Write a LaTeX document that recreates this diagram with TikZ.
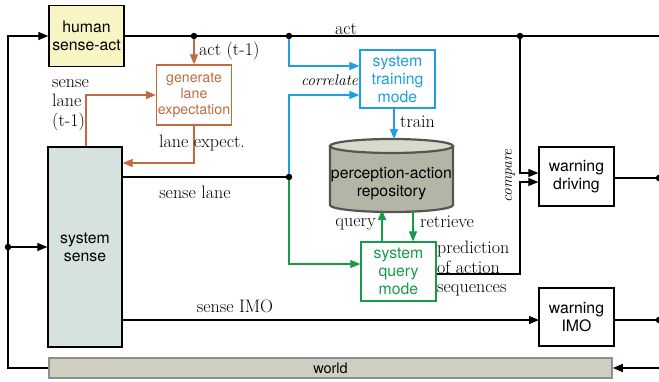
\documentclass[tikz,border=0pt]{standalone}
\usepackage{fontspec}
\setsansfont{TeX Gyre Heros}
\usetikzlibrary{arrows.meta}

\definecolor{orng}{HTML}{C06A3E}
\definecolor{blu}{HTML}{1E9FE3}
\definecolor{grn}{HTML}{179A4A}
\definecolor{humanfill}{HTML}{F9F4C4}
\definecolor{sensefill}{HTML}{D6E2DE}
\definecolor{worldfill}{HTML}{CFCFC1}
\definecolor{worldedge}{HTML}{8E8E8E}
\definecolor{cylbody}{HTML}{B5B5A7}
\definecolor{cyltop}{HTML}{D9D9CC}
\definecolor{cyledge}{HTML}{555555}

\tikzset{
  box/.style={draw, line width=1.3pt, minimum width=75pt, minimum height=59pt,
    inner sep=0pt, align=center, font=\sffamily\fontsize{15.8}{18}\selectfont},
  lbl/.style={inner sep=0pt, font=\fontsize{18}{19.5}\selectfont},
  ilbl/.style={inner sep=0pt, font=\itshape\fontsize{15.5}{18}\selectfont},
  wire/.style={line width=1.2pt},
  arr/.style={wire, -{Triangle[length=10pt,width=8pt]}},
  dot/.style={circle, fill, inner sep=0pt, minimum size=6.5pt},
}

\begin{document}
\begin{tikzpicture}[x=1pt,y=-1pt]
\useasboundingbox (0,0) rectangle (659,381);

% ---------- boxes ----------
\node[box, fill=humanfill, minimum height=61pt] (human) at (86.5,36) {human\\sense-act};
\node[box, draw=orng, text=orng, minimum height=60pt,
      font=\sffamily\fontsize{14.2}{16}\selectfont] (gen) at (194,95) {generate\\lane\\expectation};
\node[box, fill=sensefill, minimum width=74pt, minimum height=200pt] (sense) at (85,247) {system\\sense};
\node[box, draw=blu, text=blu, minimum height=58pt] (train) at (397.5,79) {system\\training\\mode};
\node[box, draw=grn, text=grn] (query) at (398.5,271.5) {system\\query\\mode};
\node[box] (drv) at (576.5,176.5) {warning\\driving};
\node[box, minimum height=58pt] (imo) at (576.5,317) {warning\\IMO};
\node[box, draw=worldedge, fill=worldfill, line width=1.6pt, minimum width=563pt,
      minimum height=20pt, font=\sffamily\fontsize{14.5}{17}\selectfont] (world) at (330.5,368) {world};

% ---------- repository cylinder ----------
\path[fill=cylbody, draw=cyledge, line width=2.2pt]
  (330,146) -- (330,205) arc[start angle=180, end angle=0, x radius=61.5, y radius=7]
  -- (453,146) -- cycle;
\path[fill=cyltop, draw=cyledge, line width=2.2pt]
  (391.5,146) ellipse [x radius=61.5, y radius=7];
\node[inner sep=0pt, align=center, font=\sffamily\fontsize{15.8}{18}\selectfont]
  (repo) at (391.5,184) {perception-action\\repository};
\coordinate (repotop) at (394,139);
\coordinate (repoq) at (382,210);
\coordinate (repor) at (413,210);

% ---------- junctions ----------
\node[dot] (j1) at (194,36) {};
\node[dot] (j2) at (289,36) {};
\node[dot] (j3) at (520,36) {};
\node[dot] (j4) at (289,177) {};
\node[dot] (j5) at (8,247) {};
\coordinate (actend) at (659,36);
\coordinate (loop) at (8,36);
\coordinate (le) at (194,163);
\coordinate (pb) at (520,182);
\coordinate (imoin) at (539,320);
\coordinate (winput) at (659,368);
\node[dot] (o1) at (659,178) {};
\node[dot] (o2) at (659,320) {};

% ---------- black wiring ----------
\draw[wire] (human.east) -- (actend);
\draw[arr] (world.west) -| (loop) -- (human.west);
\draw[arr] (j5) -- (sense.west);
\draw[wire] (sense.east |- j4) -- (j4);
\draw[arr] (sense.east |- imoin) -- (imoin);
\draw[arr] (j3) |- ([yshift=3.5pt]drv.west);
\draw[arr] ([yshift=-2.5pt]query.east) -| (pb) -- (drv.west |- pb);
\draw[wire] (drv.east |- o1) -- (o1);
\draw[wire] (imo.east |- o2) -- (o2);
\draw[arr] (winput) -- (world.east);

% ---------- orange wiring ----------
\draw[arr, orng] (j1) -- (gen.north);
\draw[arr, orng] ([xshift=1pt]sense.north) |- (gen.west);
\draw[arr, orng] (gen.south) -- (le) -- (sense.east |- le);

% ---------- blue wiring ----------
\draw[arr, blu] (j2) |- ([yshift=13pt]train.west);
\draw[arr, blu] (j4) |- ([yshift=-16pt]train.west);
\draw[arr, blu] (train.south -| repotop) -- (repotop);

% ---------- green wiring ----------
\draw[arr, grn] (j4) |- ([yshift=7.5pt]query.west);
\draw[arr, grn] (query.north -| repoq) -- (repoq);
\draw[arr, grn] (repor) -- (query.north -| repor);

% ---------- labels ----------
\node[lbl] (lact) at (346,29) {act};
\node[lbl, anchor=west] (lact1) at (199,51) {act (t-1)};
\node[lbl, anchor=north west, align=left] (lsl1) at (52,79) {sense\\lane\\(t-1)};
\node[lbl] (lexp) at (202,143) {lane expect.};
\node[lbl] (lsl) at (195,192) {sense lane};
\node[ilbl, anchor=east] (lcor) at (358,80) {correlate};
\node[lbl, anchor=west] (ltrain) at (400,122) {train};
\node[lbl, anchor=east] (lquery) at (376,224) {query};
\node[lbl, anchor=west] (lret) at (420,222) {retrieve};
\node[lbl, anchor=north west, align=left] (lpred) at (437,241) {prediction\\of action\\sequences};
\node[ilbl, rotate=90] (lcmp) at (510,176) {compare};
\node[lbl] (limo) at (235,306) {sense IMO};
\end{tikzpicture}
\end{document}
